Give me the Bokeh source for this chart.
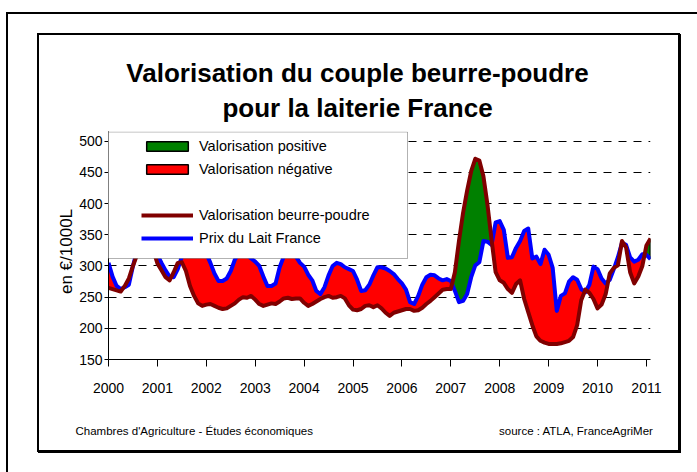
import math
import numpy as np
from bokeh.plotting import figure
from bokeh.layouts import column
from bokeh.models import FixedTicker, BoxAnnotation, Label, Legend, LegendItem, Range1d
from bokeh.embed import file_html
from bokeh.resources import INLINE

# ---------------- data ----------------
first_year = 2000
n_months = 134  # Jan 2000 .. Feb 2011
year_ticks = [2000, 2001, 2002, 2003, 2004, 2005, 2006, 2007, 2008, 2009, 2010, 2011]
year_labels = ["2000", "2001", "2002", "2003", "2004", "2005", "2006", "2007", "2008", "2009", "2010", "2011"]
value_ticks = [150, 200, 250, 300, 350, 400, 450, 500]

prix_lait = [
    305, 283, 268, 263, 266, 270, 300, 325, 332, 335, 335, 330,   # 2000
    318, 305, 293, 283, 282, 295, 315, 325, 330, 332, 333, 330,   # 2001
    320, 305, 288, 276, 276, 280, 292, 310, 320, 322, 318, 312,   # 2002
    307, 300, 283, 268, 268, 272, 298, 315, 322, 325, 315, 305,   # 2003
    299, 286, 277, 260, 255, 266, 285, 300, 305, 303, 298, 295,   # 2004
    292, 278, 260, 261, 270, 285, 298, 298, 296, 292, 287, 279,   # 2005
    272, 262, 242, 239, 252, 270, 282, 286, 285, 280, 277, 279,   # 2006
    276, 260, 242, 244, 255, 282, 301, 306, 340, 339, 334, 370,   # 2007
    372, 358, 313, 314, 329, 340, 356, 360, 312, 315, 303, 326,   # 2008
    318, 297, 228, 252, 256, 275, 282, 278, 263, 258, 270, 299,   # 2009
    295, 280, 272, 278, 295, 314, 337, 334, 314, 307, 310, 319,   # 2010
    318, 311,                                                     # 2011
]
valo_beurre_poudre = [
    265, 263, 261, 259, 268, 280, 300, 318, 325, 330, 330, 325,   # 2000
    304, 293, 282, 277, 290, 305, 306, 292, 268, 252, 240, 236,   # 2001
    238, 239, 236, 233, 231, 232, 236, 240, 246, 250, 249, 252,   # 2002
    246, 239, 236, 238, 240, 239, 243, 248, 249, 247, 248, 248,   # 2003
    241, 236, 239, 243, 247, 250, 252, 249, 250, 252, 248, 237,   # 2004
    230, 229, 231, 236, 237, 234, 237, 232, 225, 220, 225, 227,   # 2005
    229, 231, 231, 228, 229, 233, 239, 244, 250, 256, 262, 263,   # 2006
    263, 290, 340, 385, 421, 452, 472, 469, 444, 398, 342, 290,   # 2007
    277, 273, 263, 257, 271, 277, 247, 226, 205, 187, 180, 177,   # 2008
    175, 175, 175, 176, 178, 180, 186, 205, 245, 262, 257, 247,   # 2009
    232, 238, 255, 288, 297, 301, 340, 330, 290, 272, 283, 300,   # 2010
    333, 344,                                                     # 2011
]

# ---------------- layout (page pixels) ----------------
WIN_W, WIN_H = 697, 472
OUT_L, OUT_T = 6, 12                      # outer page frame (top-left corner)
IN_L, IN_T, IN_R, IN_B = 37, 33, 680, 452  # chart-area box, outer edges
BW = 2                                     # box border width
CX, CY = IN_L + BW, IN_T + BW              # canvas origin on the page
W = IN_R - IN_L - 2 * BW
H = IN_B - IN_T - 2 * BW
FL, FR, FT, FB = 108, 650, 131, 359        # plot frame edges on the page
PX_PER_UNIT = (359 - 140.8) / 350.0
X0 = first_year
X1 = first_year + (n_months - 1) / 12.0
Y0 = 150.0
Y1 = Y0 + (FB - FT) / PX_PER_UNIT


def px2x(px):
    return X0 + (px - FL) / (FR - FL) * (X1 - X0)


def px2y(py):
    return Y0 + (FB - py) / (FB - FT) * (Y1 - Y0)


FONT = "Liberation Sans"

months = np.array([first_year + i / 12.0 for i in range(n_months)])
lait = np.array(prix_lait, dtype=float)
valo = np.array(valo_beurre_poudre, dtype=float)

# insert crossing points so the two fills meet cleanly
xs, bs, rs = [months[0]], [lait[0]], [valo[0]]
for i in range(1, n_months):
    d0 = valo[i - 1] - lait[i - 1]
    d1 = valo[i] - lait[i]
    if d0 * d1 < 0:
        t = d0 / (d0 - d1)
        xc = months[i - 1] + t * (months[i] - months[i - 1])
        yc = lait[i - 1] + t * (lait[i] - lait[i - 1])
        xs.append(xc); bs.append(yc); rs.append(yc)
    xs.append(months[i]); bs.append(lait[i]); rs.append(valo[i])
xs = np.array(xs); bs = np.array(bs); rs = np.array(rs)
hi = np.maximum(bs, rs)

p = figure(width=W, height=H, output_backend="svg", toolbar_location=None,
           x_range=Range1d(X0, X1), y_range=Range1d(Y0, Y1),
           min_border_left=FL - CX, min_border_right=CX + W - FR,
           min_border_top=FT - CY, min_border_bottom=CY + H - FB)
p.outline_line_color = None
p.background_fill_color = "white"
p.border_fill_color = "white"

# fills
r_green = p.varea(x=xs, y1=bs, y2=hi, fill_color="#008000")
r_red = p.varea(x=xs, y1=rs, y2=hi, fill_color="#FF0000")
# closing edge of the area at the last month
p.segment(x0=[months[-1]], y0=[lait[-1]], x1=[months[-1]], y1=[valo[-1]],
          line_color="black", line_width=2)
# lines
r_lait = p.line(months, lait, line_color="#0000FF", line_width=4, line_join="round")
r_valo = p.line(months, valo, line_color="#800000", line_width=4, line_join="round")

# axes
p.xaxis.ticker = FixedTicker(ticks=year_ticks)
p.xaxis.major_label_overrides = {t: l for t, l in zip(year_ticks, year_labels)}
p.yaxis.ticker = FixedTicker(ticks=value_ticks)
for ax in (p.xaxis[0], p.yaxis[0]):
    ax.axis_line_color = "black"
    ax.major_tick_line_color = "black"
    ax.minor_tick_line_color = None
    ax.major_tick_in = 0
    ax.major_label_text_font = FONT
    ax.major_label_text_font_size = "14px"
    ax.major_label_text_color = "black"
p.xaxis.major_tick_out = 7
p.xaxis.major_label_standoff = 16
p.yaxis.major_tick_out = 4
p.yaxis.major_label_standoff = 2

p.xgrid.visible = False
p.ygrid.ticker = FixedTicker(ticks=value_ticks)
p.ygrid.grid_line_color = "black"
p.ygrid.grid_line_dash = "8 7"
p.ygrid.grid_line_width = 1

# y axis title, placed in the left panel
p.add_layout(Label(x=px2x(66), y=px2y(251), text="en €/1000L", angle=math.pi / 2,
                   text_align="center", text_baseline="middle", text_font=FONT,
                   text_font_size="17px", text_color="black"), "left")

# title (two lines) in the top panel
p.add_layout(Label(x=px2x(357), y=px2y(72), text="Valorisation du couple beurre-poudre",
                   text_align="center", text_baseline="middle", text_font=FONT,
                   text_font_style="bold", text_font_size="26px", text_color="black"), "above")
p.add_layout(Label(x=px2x(357), y=px2y(107), text="pour la laiterie France",
                   text_align="center", text_baseline="middle", text_font=FONT,
                   text_font_style="bold", text_font_size="26px", text_color="black"), "above")

# footnotes in the bottom panel
p.add_layout(Label(x=px2x(75), y=px2y(430), text="Chambres d'Agriculture - Études économiques",
                   text_align="left", text_baseline="middle", text_font=FONT,
                   text_font_size="11.5px", text_color="black"), "below")
p.add_layout(Label(x=px2x(653), y=px2y(430), text="source : ATLA, FranceAgriMer",
                   text_align="right", text_baseline="middle", text_font=FONT,
                   text_font_size="11.5px", text_color="black"), "below")

# legend
p.add_layout(BoxAnnotation(left=px2x(98), right=px2x(407), top=px2y(131.5), bottom=px2y(258),
                           fill_color="white", fill_alpha=1, line_color="black", line_width=1))
nan = float("nan")
r_pos = p.quad(left=[nan], right=[nan], top=[nan], bottom=[nan], fill_color="#008000",
               line_color="black", line_width=1.5)
r_neg = p.quad(left=[nan], right=[nan], top=[nan], bottom=[nan], fill_color="#FF0000",
               line_color="black", line_width=1.5)
r_blank = p.line(x=[nan], y=[nan], line_alpha=0)
legend = Legend(items=[
    LegendItem(label="Valorisation positive", renderers=[r_pos]),
    LegendItem(label="Valorisation négative", renderers=[r_neg]),
    LegendItem(label=" ", renderers=[r_blank]),
    LegendItem(label="Valorisation beurre-poudre", renderers=[r_valo]),
    LegendItem(label="Prix du Lait France", renderers=[r_lait]),
], location=(141 - FL, FB - 248))
legend.border_line_alpha = 0
legend.background_fill_alpha = 0
legend.padding = 0
legend.margin = 0
legend.spacing = 3
legend.label_height = 20
legend.glyph_height = 12
legend.glyph_width = 52
legend.label_standoff = 6
legend.label_text_font = FONT
legend.label_text_font_size = "14.5px"
legend.label_text_color = "black"
p.add_layout(legend)

# chart-area box (with a slight shadow) and outer page frame as CSS borders
inner = column(p, styles={"border": f"{BW}px solid black", "box-shadow": "1px 1px 0 black"})
outer = column(inner, styles={
    "margin-left": f"{OUT_L}px", "margin-top": f"{OUT_T}px",
    "border-left": "2px solid black", "border-top": "2px solid black",
    "padding-left": f"{IN_L - OUT_L - 2}px", "padding-top": f"{IN_T - OUT_T - 2}px",
    "padding-right": f"{WIN_W - OUT_L - (IN_R - OUT_L)}px",
    "padding-bottom": f"{WIN_H - OUT_T - (IN_B - OUT_T)}px",
})

open("out.html", "w").write(file_html(outer, INLINE))
